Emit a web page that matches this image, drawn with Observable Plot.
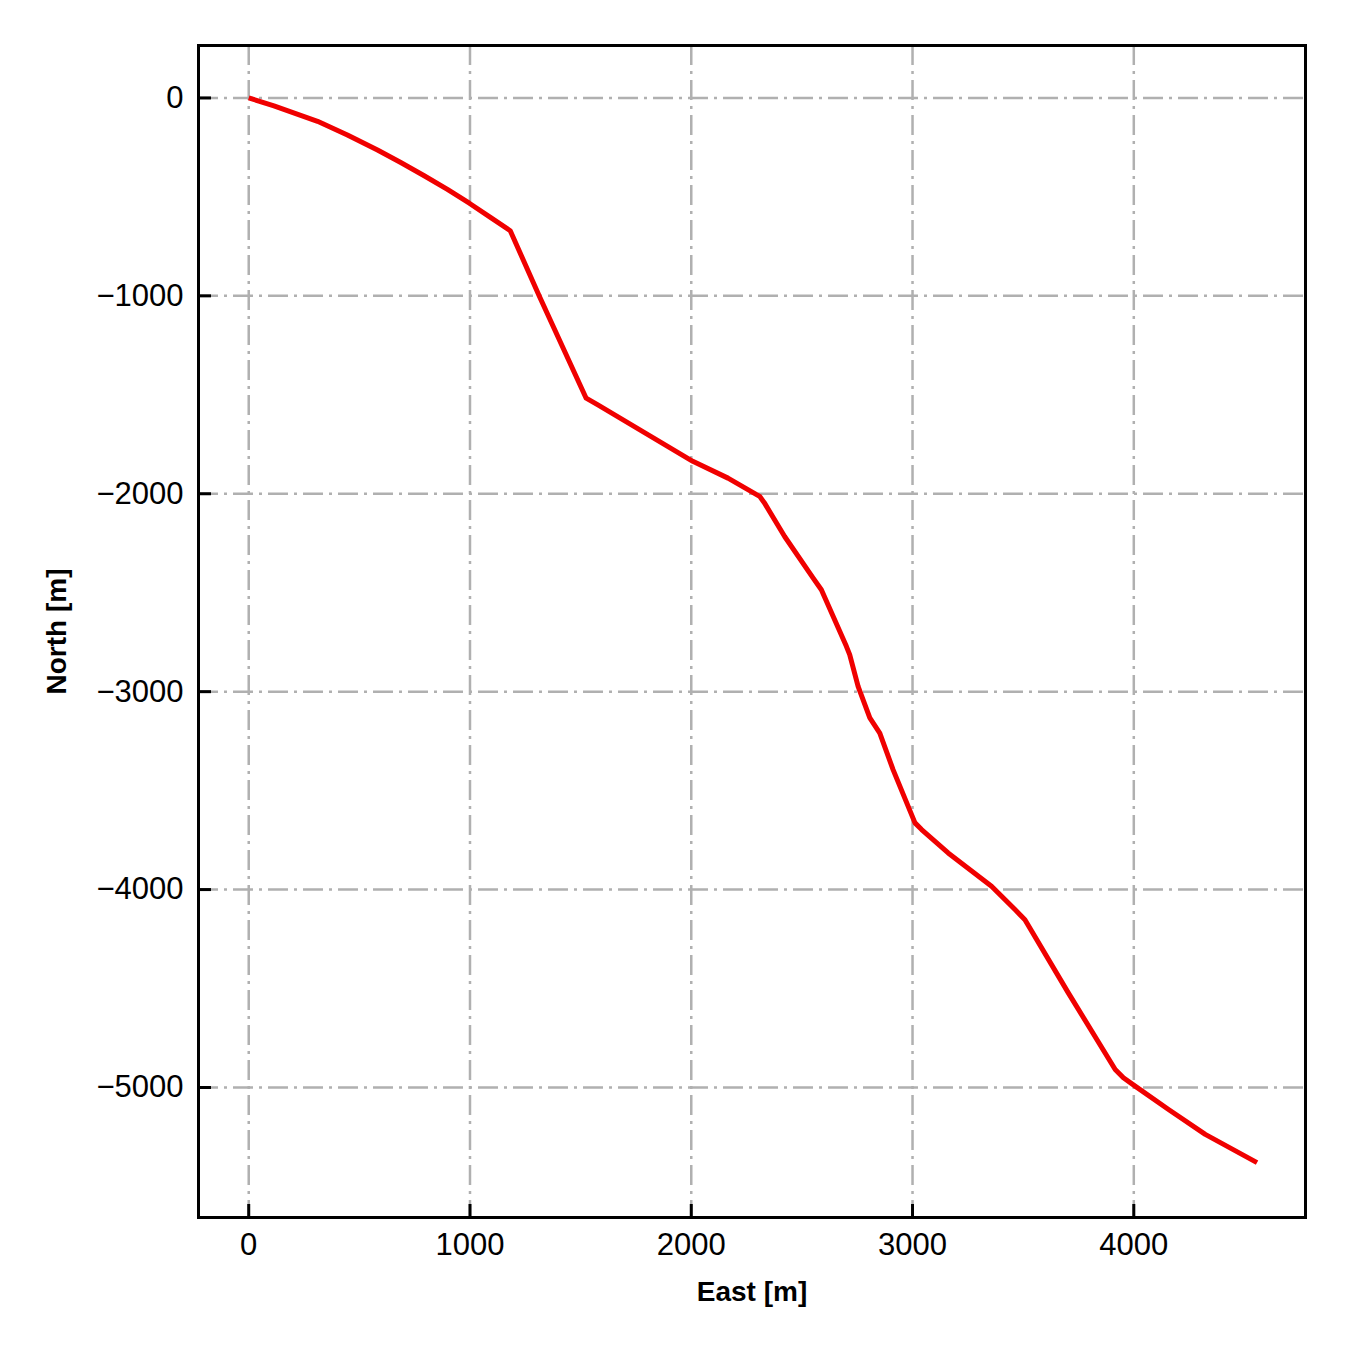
<!DOCTYPE html>
<html>
<head>
<meta charset="utf-8">
<script src="https://cdn.jsdelivr.net/npm/d3@7"></script>
<script src="https://cdn.jsdelivr.net/npm/@observablehq/plot@0.6"></script>
<style>
  html, body { margin: 0; padding: 0; background: #fff; }
</style>
</head>
<body>
<div id="chart"></div>
<script>
// Trajectory (East, North in metres)
const east  = [0, 114, 311, 446, 582, 687, 793, 898, 997, 1094, 1182, 1314, 1525, 1578, 2007, 2166, 2309, 2330, 2422, 2551, 2588, 2701, 2716, 2754, 2807, 2852, 2912, 3011, 3041, 3161, 3357, 3463, 3508, 3704, 3916, 3953, 4006, 4157, 4323, 4557];
const north = [0, -40, -118, -187, -263, -326, -393, -462, -532, -605, -671, -1003, -1517, -1551, -1836, -1921, -2013, -2045, -2216, -2426, -2485, -2771, -2813, -2973, -3133, -3209, -3394, -3663, -3697, -3815, -3983, -4101, -4152, -4522, -4909, -4951, -4993, -5111, -5237, -5380];
const xTicks = [0, 1000, 2000, 3000, 4000];
const yTicks = [0, -1000, -2000, -3000, -4000, -5000];
const xLabel = "East [m]";
const yLabel = "North [m]";

const rows = east.map((e, i) => ({east: e, north: north[i]}));

const W = 1350, H = 1350;
const mL = 198, mR = 45, mT = 45, mB = 133;
const frameW = W - mL - mR, frameH = H - mT - mB;
const tickLen = 13;
const fmt = d3.format("d");

const chart = Plot.plot({
  width: W,
  height: H,
  marginLeft: mL,
  marginRight: mR,
  marginTop: mT,
  marginBottom: mB,
  style: {fontFamily: "'Liberation Sans', Arial, sans-serif", fontSize: "31px", color: "#000", background: "#fff"},
  x: {domain: [-227, 4776]},
  y: {domain: [-5657, 265]},
  marks: [
    Plot.gridX(xTicks, {stroke: "#b0b0b0", strokeOpacity: 1, strokeWidth: 2.5, strokeDasharray: "20,6,3,6"}),
    Plot.gridY(yTicks, {stroke: "#b0b0b0", strokeOpacity: 1, strokeWidth: 2.5, strokeDasharray: "20,6,3,6"}),
    Plot.line(rows, {x: "east", y: "north", stroke: "#f00000", strokeWidth: 5, curve: "linear", strokeLinejoin: "round", strokeLinecap: "butt"}),
    Plot.frame({stroke: "#000", strokeWidth: 3}),
    Plot.tickX(xTicks, {x: d => d, stroke: "#000", strokeWidth: 3, insetTop: frameH - tickLen}),
    Plot.tickY(yTicks, {y: d => d, stroke: "#000", strokeWidth: 3, insetRight: frameW - tickLen}),
    Plot.axisX(xTicks, {tickSize: 0, tickPadding: 15, fontSize: 31, tickFormat: fmt, label: null}),
    Plot.axisY(yTicks, {tickSize: 0, tickPadding: 15, fontSize: 31, tickFormat: fmt, label: null}),
    Plot.text([xLabel], {frameAnchor: "bottom", dy: 75, text: d => d, textAnchor: "middle", lineAnchor: "middle", fontWeight: "bold", fontSize: 28, fill: "#000"}),
    Plot.text([yLabel], {frameAnchor: "left", dx: -141, rotate: -90, text: d => d, textAnchor: "middle", lineAnchor: "middle", fontWeight: "bold", fontSize: 28, fill: "#000"})
  ]
});

document.getElementById("chart").appendChild(chart);
</script>
</body>
</html>
